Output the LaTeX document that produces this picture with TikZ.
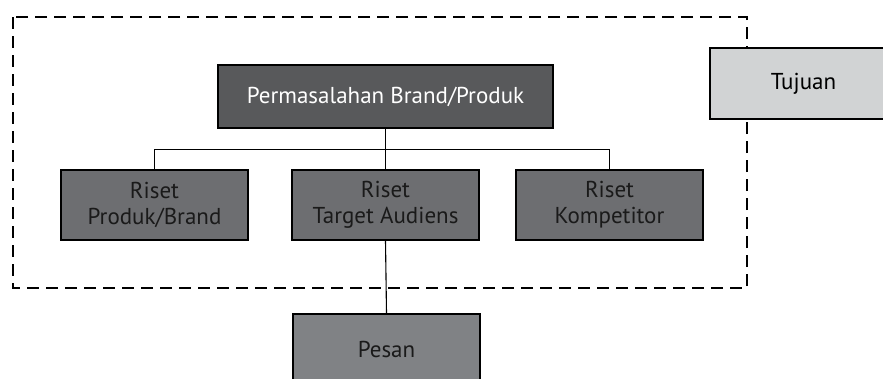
\documentclass[tikz,border=0pt]{standalone}
\usepackage{fontspec}
\setmainfont{PT Sans}
\usetikzlibrary{positioning}
\definecolor{probgray}{RGB}{88,89,91}
\definecolor{risetgray}{RGB}{109,110,113}
\definecolor{pesangray}{RGB}{128,130,133}
\definecolor{tujuangray}{RGB}{209,211,212}
\definecolor{textdark}{RGB}{26,26,26}

\tikzset{
  box/.style={draw=black, line width=1.3pt, minimum width=187pt, minimum height=70pt,
    align=center, inner sep=0pt, font=\fontsize{23}{26}\selectfont},
  link/.style={draw=black, line width=1.1pt}
}

\begin{document}
\begin{tikzpicture}[x=1pt, y=-1pt]
        \useasboundingbox (0,0) rectangle (883,378);
        \clip (0,0) rectangle (883,378);

        % Dashed frame
        \draw[line width=1.3pt, dash pattern=on 12pt off 7pt] (13,17) rectangle (747,288);

        % Goal box (cut by the right edge)
        \node[box, fill=tujuangray, text=black, minimum height=71pt] (tujuan) at (803.5,83.5) {Tujuan};

        % Main problem
        \node[box, fill=probgray, text=white, minimum width=335pt, minimum height=63pt] (prob) at (385.5,96.5) {Permasalahan Brand/Produk};

        % Research boxes
        \node[box, fill=risetgray, text=textdark] (rproduk) at (154.5,205) {Riset\\Produk/Brand};
        \node[box, fill=risetgray, text=textdark] (raudiens) at (385.5,205) {Riset\\Target Audiens};
        \node[box, fill=risetgray, text=textdark] (rkompetitor) at (609.5,205) {Riset\\Kompetitor};

        % Message
        \node[box, fill=pesangray, text=textdark] (pesan) at (386.5,349) {Pesan};

        % Connectors
        \draw[link] (prob.south) -- (raudiens.north);
        \draw[link] (prob.south) ++(0,21) -| (rproduk.north);
        \draw[link] (prob.south) ++(0,21) -| (rkompetitor.north);
        \draw[link] (raudiens.south) -- (pesan.north);
\end{tikzpicture}
\end{document}
